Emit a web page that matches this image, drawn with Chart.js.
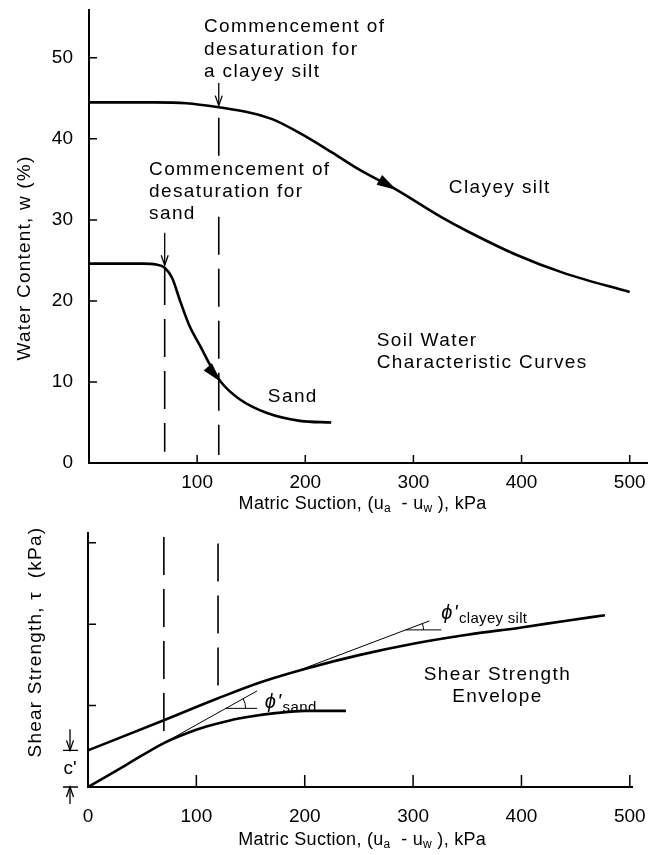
<!DOCTYPE html>
<html>
<head>
<meta charset="utf-8">
<script src="https://cdn.jsdelivr.net/npm/chart.js@4.4.0/dist/chart.umd.min.js"></script>
<style>
  html, body { margin: 0; padding: 0; background: #fff; }
  #wrap { position: relative; width: 664px; height: 855px; }
  #wrap canvas { position: absolute; left: 0; top: 0; }
</style>
</head>
<body>
<div id="wrap">
  <canvas id="swccChart" width="664" height="855"></canvas>
  <canvas id="strengthChart" width="664" height="855"></canvas>
</div>
<script>
// Soil water characteristic curves: matric suction (kPa) vs water content (%)
const clayeySiltSuction = [0, 60, 90, 120, 150, 170, 195, 225, 250, 284.5, 325, 350, 395, 440, 500];
const clayeySiltWater = [44.5, 44.5, 44.4, 43.9, 43.2, 42.4, 40.7, 38.3, 36.2, 33.7, 30.4, 28.6, 25.7, 23.4, 21.1];
const sandSuction = [0, 50, 62, 70, 77, 84, 93, 103, 112, 122, 140, 164, 195, 224];
const sandWater = [24.6, 24.6, 24.5, 24.1, 22.8, 20.1, 16.9, 14.4, 12.1, 10.0, 7.8, 6.2, 5.2, 5.0];

// Commencement of desaturation (sand, clayey silt)
const desatSuction = [70, 120];
const desatSandWaterSpan = [24.2, 1.4];
const desatClayWaterSpan = [42.6, 37.8, 30.4, 1.0];
const desatSandArrow = [28.4, 24.4];
const desatClayArrow = [46.9, 44.1];
const desatSandShearSpan = [3.07, 0.56];
const desatClayShearSpan = [2.99, 1.10];

// Shear strength envelopes (relative units, ticks unlabeled)
const clayeySiltShearSuction = [0, 70, 120, 160, 200, 250, 300, 350, 400, 440, 477];
const clayeySiltShear = [0.45, 0.82, 1.09, 1.29, 1.45, 1.62, 1.76, 1.87, 1.96, 2.04, 2.11];
const sandShearSuction = [0, 35, 70, 90, 110, 130, 150, 175, 200, 238];
const sandShear = [0, 0.27, 0.54, 0.655, 0.745, 0.815, 0.865, 0.91, 0.935, 0.935];

// phi' tangents and their horizontal references
const sandTangentSuction = [70, 156];
const sandTangentShear = [0.54, 1.18];
const sandRefSuction = [127, 156];
const sandRefShear = [0.966, 0.966];
const claySiltTangentSuction = [195, 315];
const claySiltTangentShear = [1.435, 2.04];
const claySiltRefSuction = [293, 326];
const claySiltRefShear = [1.93, 1.93];

// Ticks
const suctionTicksTop = [100, 200, 300, 400, 500];
const suctionTicks = [0, 100, 200, 300, 400, 500];
const waterTicks = [0, 10, 20, 30, 40, 50];
const shearTicks = [1, 2, 3];

const FONT = '"Liberation Sans", Arial, Helvetica, sans-serif';

function toPoints(xs, ys) {
    return xs.map(function(x, i) { return { x: x, y: ys[i] }; });
}

function vline(x, span) {
    return span.map(function(y) { return { x: x, y: y }; });
}

function lineSet(data, width, extra) {
    return Object.assign({
        data: data,
        showLine: true,
        borderColor: '#000',
        backgroundColor: '#000',
        borderWidth: width,
        pointRadius: 0,
        fill: false
    }, extra || {});
}

function curve(data, extra) {
    return lineSet(data, 2.6, Object.assign({ cubicInterpolationMode: 'monotone' }, extra || {}));
}

function dashed(data) {
    return lineSet(data, 1.6, { borderDash: [38, 14] });
}

function setFont(ctx, size, italic) {
    ctx.font = (italic ? 'italic ' : '') + size + 'px ' + FONT;
}

// text pieces drawn in a row (for subscripts)
function drawRuns(ctx, runs, x, y, align, spacing) {
    let total = 0;
    runs.forEach(function(r) {
        setFont(ctx, r.size || 19, r.italic);
        ctx.letterSpacing = (r.ls !== undefined ? r.ls : spacing) + 'px';
        r.w = ctx.measureText(r.t).width;
        total += r.w;
    });
    let cx = align === 'center' ? x - total / 2 : (align === 'right' ? x - total : x);
    ctx.textAlign = 'left';
    ctx.textBaseline = 'middle';
    runs.forEach(function(r) {
        setFont(ctx, r.size || 19, r.italic);
        ctx.letterSpacing = (r.ls !== undefined ? r.ls : spacing) + 'px';
        ctx.fillText(r.t, cx, y + (r.dy || 0));
        cx += r.w;
    });
}

function openHead(ctx, x, y, ang) {
    const L = 10, W = 3.5;
    const c = Math.cos(ang), s = Math.sin(ang);
    ctx.beginPath();
    ctx.moveTo(x - L * c + W * s, y - L * s - W * c);
    ctx.lineTo(x, y);
    ctx.lineTo(x - L * c - W * s, y - L * s + W * c);
    ctx.stroke();
}

function filledHead(ctx, x, y, ang) {
    const L = 20, W = 5.5;
    const c = Math.cos(ang), s = Math.sin(ang);
    ctx.beginPath();
    ctx.moveTo(x, y);
    ctx.lineTo(x - L * c + W * s, y - L * s - W * c);
    ctx.lineTo(x - L * c - W * s, y - L * s + W * c);
    ctx.closePath();
    ctx.fill();
}

// annotations: inward ticks, arrows, angle arcs, notes and axis titles
function makeNotes(cfg) {
    return {
        id: 'notes',
        afterDatasetsDraw: function(chart) {
            const ctx = chart.ctx;
            const xs = chart.scales.x, ys = chart.scales.y, area = chart.chartArea;
            const px = function(v) { return xs.getPixelForValue(v); };
            const py = function(v) { return ys.getPixelForValue(v); };
            ctx.save();
            ctx.strokeStyle = '#000';
            ctx.fillStyle = '#000';

            // inward tick marks
            ctx.lineWidth = 1.5;
            ctx.beginPath();
            xs.ticks.forEach(function(t) {
                if (t.value === 0) return;
                const x = px(t.value);
                ctx.moveTo(x, area.bottom);
                ctx.lineTo(x, area.bottom - cfg.xTickLen);
            });
            ys.ticks.forEach(function(t) {
                if (t.value === 0) return;
                const y = py(t.value);
                ctx.moveTo(area.left, y);
                ctx.lineTo(area.left + cfg.yTickLen, y);
            });
            ctx.stroke();

            // arrowheads
            ctx.lineWidth = 1.3;
            chart.data.datasets.forEach(function(ds, i) {
                if (!ds.arrow) return;
                const pts = chart.getDatasetMeta(i).data;
                const k = ds.arrow.at < 0 ? pts.length - 1 : ds.arrow.at;
                const a = pts[Math.max(k - 1, 0)], b = pts[Math.min(k + 1, pts.length - 1)];
                const ang = Math.atan2(b.y - a.y, b.x - a.x);
                if (ds.arrow.filled) filledHead(ctx, pts[k].x, pts[k].y, ang);
                else openHead(ctx, pts[k].x, pts[k].y, ang);
            });

            // phi' angle arcs
            (cfg.arcs || []).forEach(function(a) {
                const ang = Math.atan2(py(a.ty[1]) - py(a.ty[0]), px(a.tx[1]) - px(a.tx[0]));
                ctx.lineWidth = 1;
                ctx.beginPath();
                ctx.arc(px(a.cx), py(a.cy), a.r, ang, 0);
                ctx.stroke();
            });

            // c' marker
            if (cfg.cPrime !== undefined) {
                const yc = py(cfg.cPrime), y0 = py(0), xm = area.left - 18;
                ctx.lineWidth = 1.3;
                ctx.beginPath();
                ctx.moveTo(area.left - 25, yc); ctx.lineTo(area.left - 10, yc);
                ctx.moveTo(area.left - 25, y0); ctx.lineTo(area.left - 10, y0);
                ctx.moveTo(xm, yc - 21); ctx.lineTo(xm, yc);
                ctx.moveTo(xm, y0 + 17); ctx.lineTo(xm, y0);
                ctx.stroke();
                openHead(ctx, xm, yc, Math.PI / 2);
                openHead(ctx, xm, y0, -Math.PI / 2);
                drawRuns(ctx, [{ t: "c'" }], xm, (yc + y0) / 2, 'center', 0);
            }

            // notes
            (cfg.notes || []).forEach(function(n) {
                const lh = n.lh || 22.5;
                n.lines.forEach(function(line, j) {
                    const runs = typeof line === 'string' ? [{ t: line }] : line;
                    drawRuns(ctx, runs, px(n.x), py(n.y) + j * lh, n.align || 'left', 1.4);
                });
            });

            // axis titles
            const suction = [{ t: 'Matric Suction, (u' }, { t: 'a', size: 12, dy: 5 },
                             { t: '  - u' }, { t: 'w', size: 12, dy: 5 }, { t: ' ), kPa' }];
            ctx.fillStyle = '#000';
            drawRuns(ctx, suction.map(function(r) { return Object.assign({ size: 18 }, r); }),
                     px(253), area.bottom + cfg.xTitleGap, 'center', 0.3);

            ctx.save();
            ctx.translate(area.left - cfg.yTitleGap, py(cfg.yTitleAt));
            ctx.rotate(-Math.PI / 2);
            drawRuns(ctx, [{ t: cfg.yTitle }], 0, 0, 'center', 1.2);
            ctx.restore();

            ctx.restore();
        }
    };
}

// keep the axis boxes from pushing the plot area around
function zeroPadding(s) {
    s.paddingTop = 0;
    s.paddingBottom = 0;
    s.paddingLeft = 0;
    s.paddingRight = 0;
}

function panelOptions(p) {
    const tickFont = { family: FONT, size: 19 };
    return {
        responsive: false,
        animation: false,
        layout: { autoPadding: false, padding: { left: 0, top: p.top, right: p.right, bottom: 0 } },
        plugins: { legend: { display: false }, tooltip: { enabled: false } },
        scales: {
            x: {
                type: 'linear',
                min: 0,
                max: p.xMax,
                grid: { display: false, drawTicks: false, tickLength: 0 },
                border: { display: true, color: '#000', width: 2 },
                ticks: { color: '#000', font: tickFont, padding: p.xPad, maxRotation: 0, autoSkip: false },
                afterBuildTicks: function(s) { s.ticks = p.xTicks.map(function(v) { return { value: v }; }); },
                afterFit: function(s) { s.height = p.xHeight; zeroPadding(s); }
            },
            y: {
                type: 'linear',
                min: 0,
                max: p.yMax,
                grid: { display: false, drawTicks: false, tickLength: 0 },
                border: { display: true, color: '#000', width: 2 },
                ticks: {
                    color: '#000',
                    font: tickFont,
                    padding: p.yPad,
                    autoSkip: false,
                    callback: p.yLabels ? undefined : function() { return ''; }
                },
                afterBuildTicks: function(s) { s.ticks = p.yTicks.map(function(v) { return { value: v }; }); },
                afterFit: function(s) { s.width = p.yWidth; zeroPadding(s); }
            }
        }
    };
}

// Top panel: soil water characteristic curves
new Chart(document.getElementById('swccChart'), {
    type: 'scatter',
    data: {
        datasets: [
            curve(toPoints(clayeySiltSuction, clayeySiltWater), { arrow: { at: 9, filled: true } }),
            curve(toPoints(sandSuction, sandWater), { arrow: { at: 9, filled: true } }),
            dashed(vline(desatSuction[0], desatSandWaterSpan)),
            dashed(vline(desatSuction[1], desatClayWaterSpan.slice(0, 2))),
            dashed(vline(desatSuction[1], desatClayWaterSpan.slice(2))),
            lineSet(vline(desatSuction[0], desatSandArrow), 1.3, { arrow: { at: -1 } }),
            lineSet(vline(desatSuction[1], desatClayArrow), 1.3, { arrow: { at: -1 } })
        ]
    },
    options: panelOptions({
        top: 10, right: 17, xMax: 516, yMax: 55.9,
        xHeight: 392, yWidth: 89, xPad: 8, yPad: 16,
        xTicks: suctionTicksTop, yTicks: waterTicks, yLabels: true
    }),
    plugins: [makeNotes({
        xTickLen: 8, yTickLen: 8,
        xTitleGap: 41,
        yTitle: 'Water Content, w (%)', yTitleAt: 25.3, yTitleGap: 64,
        notes: [
            { lines: ['Commencement of', 'desaturation for', 'a clayey silt'], x: 106.3, y: 53.8 },
            { lines: ['Commencement of', 'desaturation for', 'sand'], x: 55.5, y: 36.2, lh: 22 },
            { lines: ['Clayey silt'], x: 332.7, y: 33.95 },
            { lines: ['Soil Water', 'Characteristic Curves'], x: 266, y: 15.06, lh: 22 },
            { lines: ['Sand'], x: 165.4, y: 8.15 }
        ]
    })]
});

// Bottom panel: shear strength envelopes
new Chart(document.getElementById('strengthChart'), {
    type: 'scatter',
    data: {
        datasets: [
            curve(toPoints(clayeySiltShearSuction, clayeySiltShear)),
            curve(toPoints(sandShearSuction, sandShear)),
            dashed(vline(desatSuction[0], desatSandShearSpan)),
            dashed(vline(desatSuction[1], desatClayShearSpan)),
            lineSet(toPoints(sandTangentSuction, sandTangentShear), 1),
            lineSet(toPoints(sandRefSuction, sandRefShear), 1),
            lineSet(toPoints(claySiltTangentSuction, claySiltTangentShear), 1),
            lineSet(toPoints(claySiltRefSuction, claySiltRefShear), 1)
        ]
    },
    options: panelOptions({
        top: 533, right: 32, xMax: 502, yMax: 3.12,
        xHeight: 68, yWidth: 88, xPad: 18, yPad: 10,
        xTicks: suctionTicks, yTicks: shearTicks, yLabels: false
    }),
    plugins: [makeNotes({
        xTickLen: 12, yTickLen: 8,
        xTitleGap: 53,
        yTitle: 'Shear Strength, τ  (kPa)', yTitleAt: 1.78, yTitleGap: 52,
        cPrime: clayeySiltShear[0],
        arcs: [
            { tx: sandTangentSuction, ty: sandTangentShear, cx: sandRefSuction[0], cy: sandRefShear[0], r: 20 },
            { tx: claySiltTangentSuction, ty: claySiltTangentShear, cx: claySiltRefSuction[0], cy: claySiltRefShear[0], r: 18 }
        ],
        notes: [
            { lines: ['Shear Strength', 'Envelope'], x: 377.8, y: 1.374, align: 'center', lh: 22 },
            { lines: [[{ t: "ϕ'", size: 20, italic: true }, { t: 'sand', size: 15, dy: 6, ls: 0.5 }]], x: 163, y: 1.043 },
            { lines: [[{ t: "ϕ'", size: 20, italic: true }, { t: 'clayey silt', size: 15, dy: 6, ls: 0.3 }]], x: 326, y: 2.135 }
        ]
    })]
});
</script>
</body>
</html>
